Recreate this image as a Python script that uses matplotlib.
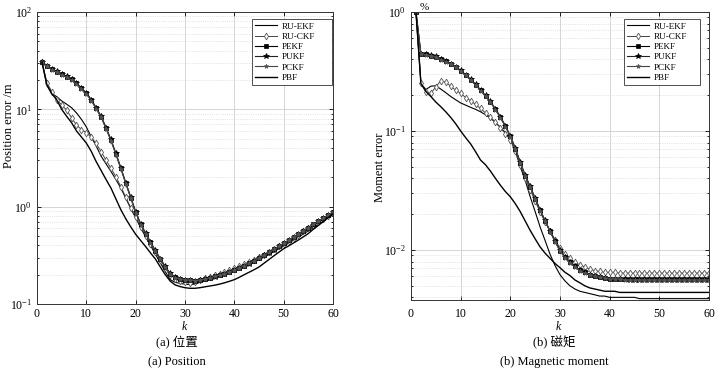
import numpy as np
import matplotlib
matplotlib.use('Agg')
import matplotlib.pyplot as plt
from matplotlib.ticker import LogLocator, NullFormatter, MultipleLocator

plt.rcParams['font.family'] = ['Liberation Serif', 'Noto Sans CJK SC']
plt.rcParams['mathtext.fontset'] = 'stix'

k = list(range(1, 61))

# position error /m
pos_ru_ekf = [30.8, 17.5, 14.5, 13.5, 12.2, 11.3, 10.4, 9.2, 7.9, 6.6,
              5.2, 4.2, 3.3, 2.75, 2.3, 1.9, 1.55, 1.22, 0.96, 0.77,
              0.61, 0.49, 0.40, 0.325, 0.265, 0.215, 0.178, 0.167, 0.163, 0.160,
              0.158, 0.160, 0.167, 0.174, 0.181, 0.188, 0.195, 0.203, 0.211, 0.220,
              0.230, 0.242, 0.255, 0.270, 0.285, 0.303, 0.323, 0.345, 0.368, 0.393,
              0.422, 0.453, 0.487, 0.524, 0.564, 0.607, 0.653, 0.710, 0.775, 0.845]
pos_ru_ckf = [30.8, 18.8, 15.2, 12.6, 11.1, 9.8, 8.2, 6.9, 6.2, 5.75,
              5.15, 4.47, 3.66, 3.0, 2.47, 2.03, 1.60, 1.25, 0.97, 0.78,
              0.62, 0.50, 0.41, 0.34, 0.285, 0.235, 0.200, 0.182, 0.172, 0.168,
              0.166, 0.170, 0.177, 0.184, 0.190, 0.197, 0.204, 0.212, 0.221, 0.232,
              0.244, 0.257, 0.271, 0.286, 0.303, 0.322, 0.343, 0.366, 0.390, 0.418,
              0.448, 0.481, 0.517, 0.556, 0.598, 0.643, 0.691, 0.743, 0.799, 0.860]
pos_pekf = [30.8, 27.9, 25.7, 24.3, 22.9, 21.6, 20.3, 18.5, 16.4, 14.6,
            12.5, 10.2, 8.4, 6.4, 4.8, 3.47, 2.48, 1.74, 1.24, 0.88,
            0.66, 0.53, 0.43, 0.35, 0.29, 0.24, 0.205, 0.188, 0.180, 0.178,
            0.176, 0.174, 0.176, 0.180, 0.185, 0.192, 0.198, 0.205, 0.213, 0.222,
            0.234, 0.247, 0.261, 0.277, 0.295, 0.316, 0.339, 0.364, 0.391, 0.420,
            0.452, 0.487, 0.525, 0.566, 0.610, 0.656, 0.706, 0.760, 0.818, 0.880]
pos_pukf = [30.8, 28.1, 25.9, 24.5, 23.0, 21.8, 20.4, 18.7, 16.6, 14.8,
            12.6, 10.4, 8.5, 6.5, 4.9, 3.52, 2.52, 1.76, 1.26, 0.89,
            0.67, 0.54, 0.435, 0.355, 0.293, 0.243, 0.207, 0.190, 0.181, 0.178,
            0.175, 0.173, 0.175, 0.179, 0.184, 0.191, 0.197, 0.204, 0.212, 0.221,
            0.233, 0.246, 0.260, 0.276, 0.294, 0.315, 0.338, 0.363, 0.390, 0.419,
            0.451, 0.486, 0.524, 0.565, 0.609, 0.655, 0.705, 0.759, 0.817, 0.878]
pos_pckf = [30.8, 27.7, 25.5, 24.1, 22.7, 21.4, 20.1, 18.3, 16.2, 14.4,
            12.3, 10.1, 8.3, 6.3, 4.75, 3.43, 2.45, 1.72, 1.23, 0.87,
            0.655, 0.525, 0.428, 0.348, 0.288, 0.239, 0.204, 0.187, 0.179, 0.177,
            0.175, 0.174, 0.176, 0.180, 0.185, 0.192, 0.198, 0.205, 0.213, 0.222,
            0.234, 0.247, 0.261, 0.277, 0.295, 0.316, 0.339, 0.364, 0.391, 0.420,
            0.452, 0.487, 0.525, 0.566, 0.610, 0.656, 0.706, 0.760, 0.818, 0.880]
pos_pbf = [30.8, 18.0, 14.5, 12.5, 10.0, 8.5, 7.3, 6.0, 5.2, 4.5,
           3.7, 2.9, 2.35, 1.9, 1.55, 1.2, 0.93, 0.75, 0.62, 0.52,
           0.45, 0.39, 0.335, 0.29, 0.24, 0.20, 0.172, 0.157, 0.151, 0.147,
           0.145, 0.145, 0.147, 0.150, 0.153, 0.156, 0.160, 0.165, 0.171, 0.178,
           0.188, 0.200, 0.212, 0.225, 0.240, 0.262, 0.286, 0.312, 0.340, 0.370,
           0.395, 0.424, 0.455, 0.490, 0.530, 0.585, 0.640, 0.700, 0.770, 0.840]

# moment error
mom_ru_ekf = [1.0, 0.25, 0.223, 0.238, 0.24, 0.225, 0.21, 0.195, 0.183, 0.172,
              0.165, 0.158, 0.152, 0.145, 0.137, 0.128, 0.118, 0.107, 0.097, 0.085,
              0.068, 0.050, 0.0385, 0.028, 0.021, 0.0156, 0.012, 0.0092, 0.0074, 0.0062,
              0.0055, 0.0050, 0.0047, 0.0045, 0.0044, 0.0043, 0.0042, 0.0041, 0.0041, 0.0040,
              0.0040, 0.0040, 0.0040, 0.0040, 0.0040, 0.0039, 0.0039, 0.0039, 0.0039, 0.0039,
              0.0039, 0.0039, 0.0039, 0.0039, 0.0039, 0.0039, 0.0039, 0.0039, 0.0039, 0.0039]
mom_ru_ckf = [1.0, 0.254, 0.213, 0.207, 0.235, 0.264, 0.257, 0.238, 0.22, 0.207,
              0.191, 0.18, 0.167, 0.155, 0.142, 0.13, 0.119, 0.107, 0.095, 0.084,
              0.068, 0.052, 0.040, 0.032, 0.0258, 0.0208, 0.0172, 0.0145, 0.0122, 0.0104,
              0.0093, 0.0085, 0.0079, 0.0075, 0.0072, 0.0069, 0.0067, 0.0066, 0.0065, 0.0065,
              0.0065, 0.0064, 0.0064, 0.0064, 0.0064, 0.0064, 0.0064, 0.0064, 0.0064, 0.0064,
              0.0064, 0.0064, 0.0064, 0.0064, 0.0064, 0.0064, 0.0064, 0.0064, 0.0064, 0.0064]
mom_pekf = [1.0, 0.44, 0.44, 0.43, 0.42, 0.40, 0.385, 0.365, 0.345, 0.32,
            0.295, 0.27, 0.245, 0.22, 0.197, 0.175, 0.152, 0.13, 0.11, 0.09,
            0.071, 0.054, 0.042, 0.034, 0.027, 0.0216, 0.0175, 0.0144, 0.0118, 0.0099,
            0.0087, 0.0079, 0.0073, 0.0068, 0.0065, 0.0062, 0.0061, 0.0059, 0.0058, 0.00575,
            0.0057, 0.0057, 0.0057, 0.0057, 0.0057, 0.0057, 0.0057, 0.0057, 0.0057, 0.0057,
            0.0057, 0.0057, 0.0057, 0.0057, 0.0057, 0.0057, 0.0057, 0.0057, 0.0057, 0.0057]
mom_pukf = [1.0, 0.445, 0.443, 0.433, 0.423, 0.403, 0.388, 0.368, 0.348, 0.323,
            0.298, 0.273, 0.248, 0.222, 0.199, 0.177, 0.154, 0.132, 0.111, 0.091,
            0.072, 0.055, 0.0425, 0.0343, 0.0272, 0.0218, 0.0177, 0.0145, 0.0119, 0.0100,
            0.0088, 0.0079, 0.0073, 0.0068, 0.0065, 0.0062, 0.0060, 0.0059, 0.0058, 0.0057,
            0.0057, 0.0057, 0.0057, 0.0056, 0.0056, 0.0056, 0.0056, 0.0056, 0.0056, 0.0056,
            0.0056, 0.0056, 0.0056, 0.0056, 0.0056, 0.0056, 0.0056, 0.0056, 0.0056, 0.0056]
mom_pckf = [1.0, 0.44, 0.438, 0.428, 0.418, 0.398, 0.383, 0.363, 0.343, 0.318,
            0.293, 0.268, 0.243, 0.218, 0.196, 0.174, 0.151, 0.129, 0.109, 0.089,
            0.070, 0.0535, 0.0415, 0.0337, 0.0268, 0.0214, 0.0174, 0.0143, 0.0117, 0.0098,
            0.0086, 0.0078, 0.0072, 0.0067, 0.0064, 0.0062, 0.0060, 0.0059, 0.0058, 0.0057,
            0.0057, 0.0057, 0.0056, 0.0056, 0.0056, 0.0056, 0.0056, 0.0056, 0.0056, 0.0056,
            0.0056, 0.0056, 0.0056, 0.0056, 0.0056, 0.0056, 0.0056, 0.0056, 0.0056, 0.0056]
mom_pbf = [1.0, 0.25, 0.215, 0.195, 0.175, 0.16, 0.145, 0.13, 0.115, 0.10,
           0.088, 0.078, 0.067, 0.057, 0.052, 0.046, 0.040, 0.035, 0.031, 0.028,
           0.0245, 0.021, 0.0175, 0.0146, 0.0124, 0.0106, 0.0094, 0.0085, 0.0077, 0.0071,
           0.0065, 0.0061, 0.0056, 0.0053, 0.0050, 0.0048, 0.0047, 0.0046, 0.0045, 0.0045,
           0.0045, 0.0044, 0.0044, 0.0044, 0.0044, 0.0044, 0.0044, 0.0044, 0.0044, 0.0044,
           0.0044, 0.0044, 0.0044, 0.0044, 0.0044, 0.0044, 0.0044, 0.0044, 0.0044, 0.0044]

labels = ['RU-EKF', 'RU-CKF', 'PEKF', 'PUKF', 'PCKF', 'PBF']


def draw(ax, series, ylim, legend_box):
    ekf, ckf, pekf, pukf, pckf, pbf = series
    ax.plot(k, ekf, color='black', lw=0.8, label=labels[0])
    ax.plot(k, ckf, color='#444444', lw=0.7, marker='d', ms=3.4, mfc='white',
            mec='#555555', mew=0.6, label=labels[1])
    ax.plot(k, pekf, color='black', lw=0.8, marker='s', ms=2.8, mfc='black',
            mec='black', mew=0.5, label=labels[2])
    ax.plot(k, pukf, color='#222222', lw=0.8, marker='*', ms=3.8, mfc='black',
            mec='black', mew=0.5, label=labels[3])
    ax.plot(k, pckf, color='#444444', lw=0.8, marker='*', ms=3.4, mfc='#555555',
            mec='#555555', mew=0.5, label=labels[4])
    ax.plot(k, pbf, color='black', lw=1.0, label=labels[5])
    ax.set_yscale('log')
    ax.set_xlim(0, 60)
    ax.set_ylim(*ylim)
    ax.xaxis.set_major_locator(MultipleLocator(10))
    ax.yaxis.set_major_locator(LogLocator(base=10))
    ax.yaxis.set_minor_locator(LogLocator(base=10, subs=np.arange(2, 10)))
    ax.yaxis.set_minor_formatter(NullFormatter())
    ax.grid(True, which='major', color='#cfcfcf', lw=0.6, ls='-')
    ax.grid(True, which='minor', axis='y', color='#cfcfcf', lw=0.5, ls=':')
    ax.tick_params(which='both', direction='in', top=True, right=True,
                   labelsize=8.5, width=0.6)
    ax.tick_params(which='major', length=3)
    ax.tick_params(which='minor', length=1.5)
    for s in ax.spines.values():
        s.set_linewidth(0.7)
        s.set_color('#333333')
    leg = ax.legend(loc='upper left', bbox_to_anchor=legend_box,
                    bbox_transform=fig.transFigure, mode='expand',
                    fontsize=6.6, frameon=True, fancybox=False,
                    edgecolor='#333333', framealpha=1, handlelength=2.4,
                    labelspacing=0.2, borderpad=0.35, handletextpad=0.5,
                    borderaxespad=0)
    leg.get_frame().set_linewidth(0.6)
    ax.set_axisbelow(True)


fig = plt.figure(figsize=(7.22, 3.75), dpi=100)
ax1 = fig.add_axes([37 / 722, 1 - 304 / 375, 296 / 722, 292 / 375])
ax2 = fig.add_axes([411 / 722, 1 - 300 / 375, 298 / 722, 288 / 375])

draw(ax1, [pos_ru_ekf, pos_ru_ckf, pos_pekf, pos_pukf, pos_pckf, pos_pbf], (0.1, 100),
     (252 / 722, 1 - 19 / 375, 80 / 722, 0.0))
draw(ax2, [mom_ru_ekf, mom_ru_ckf, mom_pekf, mom_pukf, mom_pckf, mom_pbf], (0.0038, 1),
     (624 / 722, 1 - 19 / 375, 76 / 722, 0.0))

ax1.tick_params(axis='x', pad=3)
ax2.tick_params(axis='x', pad=6)
ax1.set_xlabel('k', fontsize=8.5, style='italic')
ax2.set_xlabel('k', fontsize=8.5, style='italic')
ax1.xaxis.set_label_coords(184 / 722, 1 - 327 / 375, transform=fig.transFigure)
ax2.xaxis.set_label_coords(558 / 722, 1 - 327 / 375, transform=fig.transFigure)
ax1.set_ylabel('Position error /m', fontsize=9)
ax2.set_ylabel('Moment error', fontsize=9)
ax1.yaxis.set_label_coords(9 / 722, 1 - 126 / 375, transform=fig.transFigure)
ax2.yaxis.set_label_coords(380 / 722, 1 - 167 / 375, transform=fig.transFigure)
for ax in (ax1, ax2):
    ax.xaxis.label.set_va('center')
    ax.yaxis.label.set_va('center')
fig.text(424 / 722, 1 - 8 / 375, '%', fontsize=8, ha='center', va='center')

fig.text(177 / 722, 1 - 343 / 375, '(a) 位置', fontsize=9, ha='center', va='center')
fig.text(177 / 722, 1 - 362 / 375, '(a) Position', fontsize=9, ha='center', va='center')
fig.text(554 / 722, 1 - 343 / 375, '(b) 磁矩', fontsize=9, ha='center', va='center')
fig.text(554 / 722, 1 - 362 / 375, '(b) Magnetic moment', fontsize=9, ha='center', va='center')

fig.savefig('out.png', dpi=100)
